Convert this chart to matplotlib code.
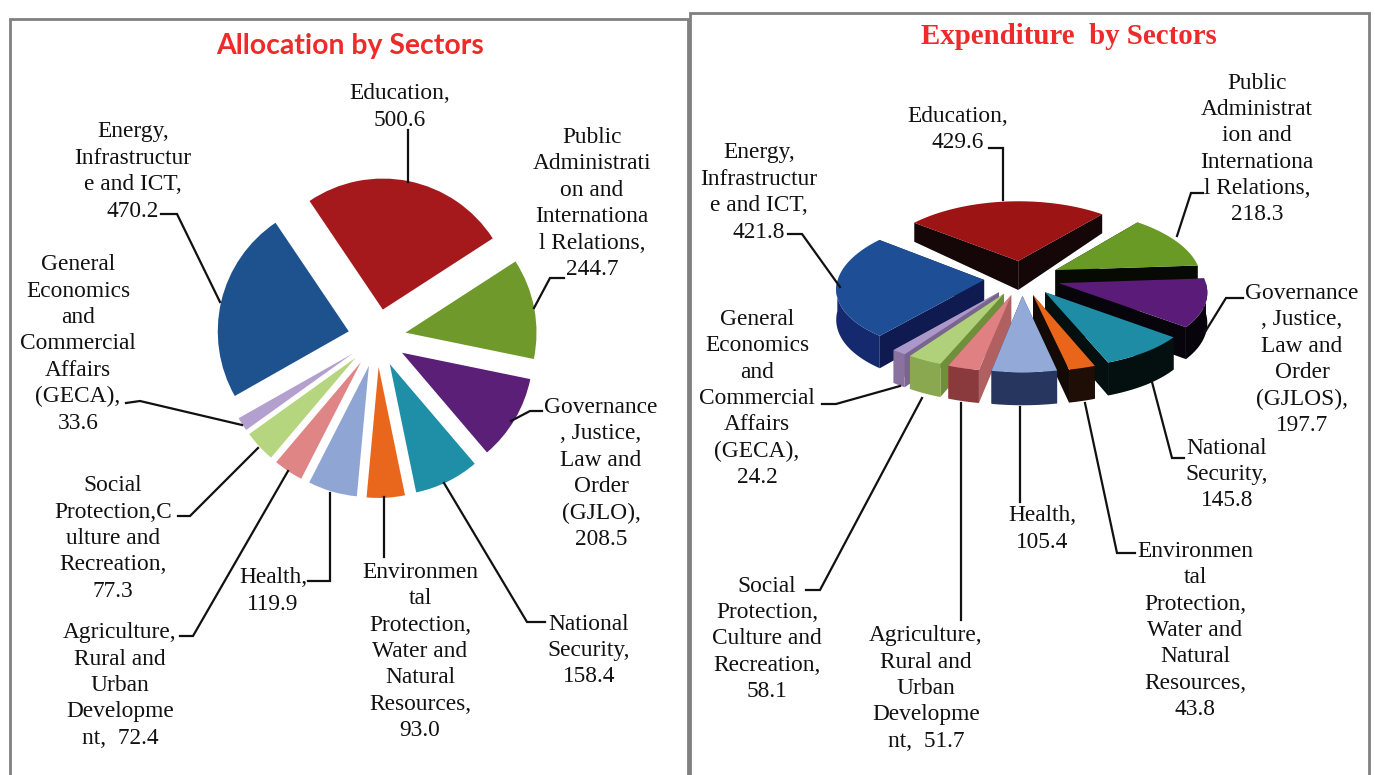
import numpy as np
import matplotlib
matplotlib.use("Agg")
import matplotlib.pyplot as plt
from matplotlib.patches import Polygon

# data, in drawing order (clockwise from Education)
alloc_values = [500.6, 244.7, 208.5, 158.4, 93.0, 119.9, 72.4, 77.3, 33.6, 470.2]
exp_values = [429.6, 218.3, 197.7, 145.8, 43.8, 105.4, 51.7, 58.1, 24.2, 421.8]

alloc_labels = [
    "Education,\n{}",
    "Public\nAdministrati\non and\nInternationa\nl Relations,\n{}",
    "Governance\n, Justice,\nLaw and\nOrder\n(GJLO),\n{}",
    "National\nSecurity,\n{}",
    "Environmen\ntal\nProtection,\nWater and\nNatural\nResources,\n{}",
    "Health,\n{}",
    "Agriculture,\nRural and\nUrban\nDevelopme\nnt,  {}",
    "Social\nProtection,C\nulture and\nRecreation,\n{}",
    "General\nEconomics\nand\nCommercial\nAffairs\n(GECA),\n{}",
    "Energy,\nInfrastructur\ne and ICT,\n{}",
]
exp_labels = [
    "Education,\n{}",
    "Public\nAdministrat\nion and\nInternationa\nl Relations,\n{}",
    "Governance\n, Justice,\nLaw and\nOrder\n(GJLOS),\n{}",
    "National\nSecurity,\n{}",
    "Environmen\ntal\nProtection,\nWater and\nNatural\nResources,\n{}",
    "Health,\n{}",
    "Agriculture,\nRural and\nUrban\nDevelopme\nnt,  {}",
    "Social\nProtection,\nCulture and\nRecreation,\n{}",
    "General\nEconomics\nand\nCommercial\nAffairs\n(GECA),\n{}",
    "Energy,\nInfrastructur\ne and ICT,\n{}",
]

# label anchor: x centre, y of first line, y of last line (pixels)
alloc_pos = [(400, 92, 118), (592, 136, 267), (601, 406, 537), (589, 622, 675),
             (420, 570, 729), (273, 576, 602), (120, 631, 736), (113, 484, 589),
             (78, 263, 421), (133, 130, 209)]
exp_pos = [(958, 114, 141), (1257, 81, 213), (1302, 291, 424), (1227, 446, 499),
           (1195, 549, 708), (1042, 514, 540), (926, 633, 740), (767, 584, 690),
           (757, 316, 477), (759, 151, 230)]

alloc_leaders = [
    [(408, 130), (408, 182)],
    [(534, 308), (550, 278), (564, 278)],
    [(511, 421), (530, 411), (542, 411)],
    [(444, 483), (527, 622), (545, 622)],
    [(384, 497), (384, 557)],
    [(330, 493), (330, 581), (308, 581)],
    [(288, 471), (193, 636), (180, 636)],
    [(258, 448), (190, 516), (178, 516)],
    [(242, 425), (140, 401), (126, 403)],
    [(220, 302), (177, 214), (161, 214)],
]
exp_leaders = [
    [(989, 148), (1003, 148), (1003, 200)],
    [(1203, 193), (1191, 193), (1177, 236)],
    [(1243, 298), (1226, 298), (1205, 332)],
    [(1152, 382), (1172, 458), (1184, 458)],
    [(1085, 403), (1117, 553), (1135, 553)],
    [(1020, 407), (1020, 502)],
    [(961, 403), (961, 620)],
    [(922, 398), (820, 590), (806, 590)],
    [(900, 386), (836, 404), (822, 404)],
    [(840, 287), (802, 234), (788, 234)],
]

alloc_colors = ["#a5191c", "#6f9a2b", "#5b1f78", "#1f8fa8", "#e9671d",
                "#8fa5d4", "#e08585", "#b5d67f", "#b3a0cf", "#1d528f"]
exp_tops = ["#9c1414", "#6a9a26", "#5a1c78", "#1f8ca6", "#e8651a",
            "#93a9d8", "#e08082", "#b0d07a", "#ac98c8", "#1e4f96"]
exp_walls = ["#0a0505", "#060a02", "#07040c", "#04100f", "#1e0e06",
             "#26365f", "#8a3a3c", "#8aa850", "#8a72a0", "#15296e"]
exp_cuts = ["#150707", "#060a02", "#07040c", "#04100f", "#140a05",
            "#26365f", "#b06060", "#6f8f3a", "#7a6490", "#0e1a50"]

SERIF = "Liberation Serif"
fig = plt.figure(figsize=(13.75, 7.75), dpi=100, facecolor="white")
ax = fig.add_axes([0, 0, 1, 1])

# flat pie, y axis runs downward so counterclock here is clockwise on screen
ax.pie(alloc_values, colors=alloc_colors, startangle=-124, counterclock=True,
       center=(377, 338), radius=131, explode=[29] * len(alloc_values))
ax.set_xlim(0, 1375)
ax.set_ylim(775, 0)
ax.set_aspect("auto")
ax.axis("off")

# exploded 3d pie, a tilted disc with some perspective
CX, CY = 1022, 278
R, GAP, TILT = 146, 38, 0.46
PERSP_X, PERSP_Y = 0.11, 0.081
START = 141.5


def project(px, py):
    fx = 1 / (1 + PERSP_X * py / R)
    fy = 1 / (1 + PERSP_Y * py / R)
    return CX + px * fx, CY - py * TILT * fy


def wall_depth(py):
    return np.interp(py / R, [-1, 0.26, 0.7], [33, 29, 19])


def extrude(px, py):
    sx, sy = project(px, py)
    d = wall_depth(py)
    top = np.column_stack([sx, sy])
    bottom = np.column_stack([sx, sy + d])
    return np.vstack([top, bottom[::-1]])


angles = np.cumsum([0] + exp_values) / sum(exp_values) * 360
wedges = []
for i in range(len(exp_values)):
    a0, a1 = START - angles[i], START - angles[i + 1]
    mid = np.radians((a0 + a1) / 2)
    ox, oy = GAP * np.cos(mid), GAP * np.sin(mid)
    theta = np.radians(np.linspace(a0, a1, 60))
    wedges.append((i, ox, oy, theta))

# painter's order, furthest apex first
for i, ox, oy, theta in sorted(wedges, key=lambda w: -(w[2] + R * np.sin(w[3]).mean())):
    ex = ox + R * np.cos(theta)
    ey = oy + R * np.sin(theta)
    for k in (0, -1):
        ax.add_patch(Polygon(extrude(np.array([ox, ex[k]]), np.array([oy, ey[k]])),
                             fc=exp_cuts[i], ec="none", zorder=3))
    front = np.sin(theta) < 0
    if front.any():
        ax.add_patch(Polygon(extrude(ex[front], ey[front]), fc=exp_walls[i], ec="none", zorder=3))
    sx, sy = project(np.r_[ox, ex], np.r_[oy, ey])
    ax.add_patch(Polygon(np.column_stack([sx, sy]), fc=exp_tops[i], ec="none", zorder=3))

# labels and leader lines
for labels, values, positions in ((alloc_labels, alloc_values, alloc_pos),
                                  (exp_labels, exp_values, exp_pos)):
    for lab, val, (x, y0, y1) in zip(labels, values, positions):
        ax.text(x, (y0 + y1) / 2 + 2, lab.format(f"{val:.1f}"), ha="center", va="center",
                family=SERIF, fontsize=16.8, linespacing=1.335, color="#111111", zorder=5)

for leader in alloc_leaders + exp_leaders:
    xs, ys = zip(*leader)
    ax.plot(xs, ys, color="#111111", lw=1.6, zorder=4, solid_joinstyle="miter")

# panel frames, open at the bottom
ax.plot([10, 10, 688, 688], [775, 19, 19, 775], color="#808080", lw=2, zorder=6,
        solid_joinstyle="miter")
ax.plot([690, 690, 1369, 1369], [775, 13, 13, 775], color="#808080", lw=2, zorder=6,
        solid_joinstyle="miter")

ax.text(350, 46, "Allocation by Sectors", ha="center", va="center", family="Lato",
        fontweight="bold", fontsize=20.4, color="#ee2a2a")
ax.text(1069, 37, "Expenditure  by Sectors", ha="center", va="center", family=SERIF,
        fontweight="bold", fontsize=20.8, color="#ee2a2a")

fig.savefig("out.png", dpi=100)
plt.close(fig)
